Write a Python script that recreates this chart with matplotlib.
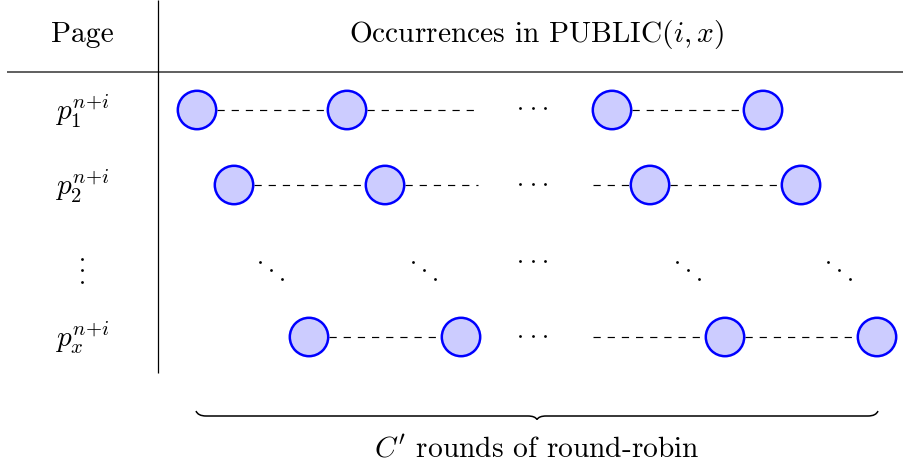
import matplotlib
matplotlib.use('Agg')
import matplotlib.pyplot as plt
from matplotlib.patches import Circle, PathPatch
from matplotlib.path import Path

plt.rcParams['mathtext.fontset'] = 'cm'
plt.rcParams['font.family'] = 'cmr10'
plt.rcParams['axes.formatter.use_mathtext'] = True
plt.rcParams['lines.scale_dashes'] = False

# header texts
col_headers = ['Page', r'Occurrences in $\mathrm{PUBLIC}(i,x)$']
header_x = [82, 537]

# row labels and row centres (pixel-like units, y grows downward)
row_labels = [r'$p_1^{n{+}i}$', r'$p_2^{n{+}i}$', r'$p_x^{n{+}i}$']
row_y = [110, 185, 337]

# node centres per row
node_x = [
    [197, 347, 612, 763],
    [234, 385, 650, 801],
    [309, 461, 725, 877],
]

# dashed segments per row (start, end)
dash_segs = [
    [(217, 327), (367, 474), (632, 743)],
    [(254, 365), (405, 478), (593, 630), (670, 781)],
    [(329, 441), (593, 705), (745, 857)],
]

# ellipsis positions: (x, y, kind)
ellipses = [
    (533, 108, 'h'), (533, 184, 'h'), (533, 261, 'h'), (533, 336, 'h'),
    (271, 270, 'd'), (424, 270, 'd'), (688, 270, 'd'), (839, 270, 'd'),
    (82, 270, 'v'),
]

brace_span = (196, 878)
brace_y = 416
brace_label = r"$C'$ rounds of round-robin"

fig = plt.figure(figsize=(9.04, 4.67), dpi=100)
ax = fig.add_axes([0, 0, 1, 1])
ax.set_xlim(0, 904)
ax.set_ylim(467, 0)
ax.axis('off')

# table rules
ax.plot([7, 904], [72, 72], color='#444444', lw=1.2, solid_capstyle='butt')
ax.plot([158, 158], [0, 373], color='black', lw=0.9, solid_capstyle='butt')

for txt, x in zip(col_headers, header_x):
    ax.text(x, 42, txt, fontsize=21.2, ha='center', va='baseline')

for lab, y in zip(row_labels, row_y):
    ax.text(82, y + 1, lab, fontsize=21.2, ha='center', va='center')

# dashed connections
for y, segs in zip(row_y, dash_segs):
    for x0, x1 in segs:
        ax.plot([x0, x1], [y, y], color='black', lw=0.85,
                linestyle=(0, (5.2, 5.0)), zorder=1)

# nodes
for y, xs in zip(row_y, node_x):
    for x in xs:
        ax.add_patch(Circle((x, y), 19.2, facecolor='#ccccff',
                            edgecolor='#0000ff', lw=1.8, zorder=3))

# ellipsis dots
step = 12.5
for x, y, kind in ellipses:
    if kind == 'h':
        xs, ys = [x - step, x, x + step], [y, y, y]
    elif kind == 'd':
        xs, ys = [x - 11, x, x + 11], [y - 8.5, y, y + 8.5]
    else:
        xs, ys = [x, x, x], [y - 11.5, y, y + 11.5]
    ax.plot(xs, ys, 'o', color='black', markersize=2.0, markeredgewidth=0,
            zorder=2)

# brace
bx0, bx1 = brace_span
bm = (bx0 + bx1) / 2
verts = [
    (bx0, brace_y - 5), (bx0 + 2, brace_y), (bx0 + 10, brace_y),
    (bm - 9, brace_y),
    (bm - 2, brace_y), (bm, brace_y + 3.5),
    (bm + 2, brace_y), (bm + 9, brace_y),
    (bx1 - 10, brace_y),
    (bx1 - 2, brace_y), (bx1, brace_y - 5),
]
codes = [
    Path.MOVETO, Path.CURVE3, Path.CURVE3,
    Path.LINETO,
    Path.CURVE3, Path.CURVE3,
    Path.CURVE3, Path.CURVE3,
    Path.LINETO,
    Path.CURVE3, Path.CURVE3,
]
ax.add_patch(PathPatch(Path(verts, codes), facecolor='none',
                       edgecolor='black', lw=1.1))
ax.text(bm, 458, brace_label, fontsize=21.2, ha='center', va='baseline')

fig.savefig('out.png', dpi=100)
